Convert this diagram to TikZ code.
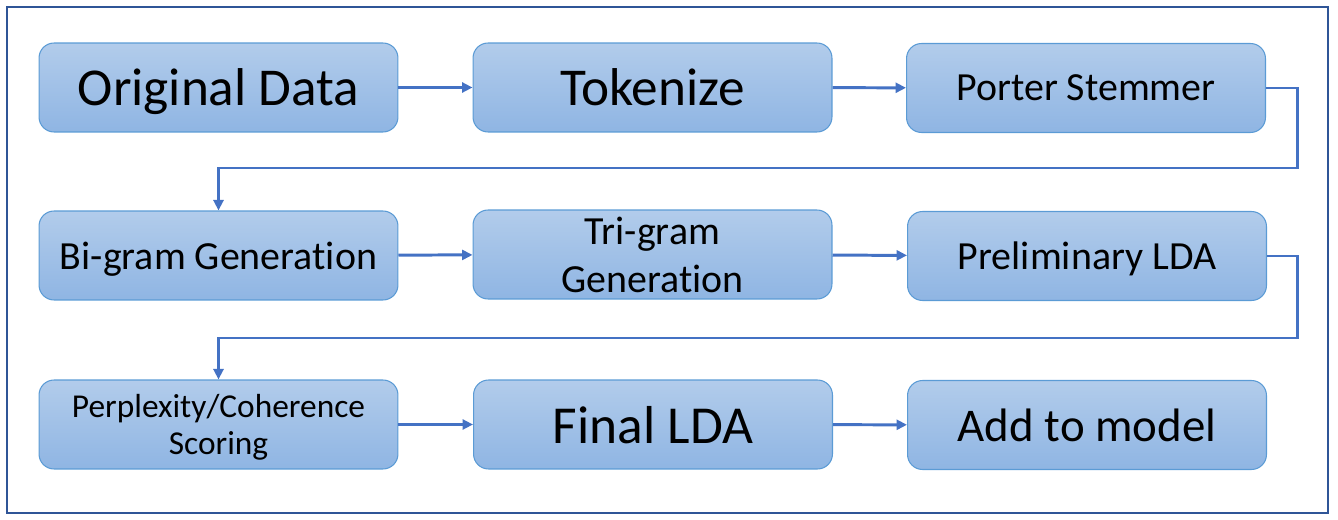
\documentclass[tikz,border=0pt]{standalone}
\usepackage{fontspec}
\setmainfont{Carlito}[Ligatures={CommonOff,ContextualOff}]
\usetikzlibrary{arrows.meta}
\definecolor{boxtop}{HTML}{B2CCEB}
\definecolor{boxbottom}{HTML}{8FB5E3}
\definecolor{boxline}{HTML}{5B9BD5}
\definecolor{flowcol}{HTML}{4472C4}
\definecolor{framecol}{HTML}{2F5597}
\begin{document}
\begin{tikzpicture}[x=0.02cm, y=-0.02cm,
		stage/.style={draw=boxline, line width=0.6pt, rounded corners=0.3cm, top color=boxtop, bottom color=boxbottom, minimum width=7.18cm, minimum height=1.78cm, inner sep=0pt, text depth=0pt, align=center, font=\fontsize{22.7}{27.2}\selectfont},
		flowline/.style={draw=flowcol, line width=1.7pt, -{Triangle[length=0.21cm,width=0.2cm]}}]
		\useasboundingbox (0,0) rectangle (1338,520);
		\draw [framecol, line width=1.2pt] (7,7) rectangle (1328,513);
		\node (orig) [stage, font=\fontsize{30.3}{36}\selectfont] at (218.5,87.5) {Original Data};
		\node (token) [stage, font=\fontsize{30.3}{36}\selectfont] at (652.5,87.5) {Tokenize};
		\node (porter) [stage] at (1086,88) {Porter Stemmer};
		\node (bigram) [stage] at (218.5,255.5) {Bi-gram Generation};
		\node (trigram) [stage] at (652.5,254.5) {Tri-gram\\Generation};
		\node (prelda) [stage] at (1087,256) {Preliminary LDA};
		\node (scoring) [stage, font=\fontsize{19}{21.5}\selectfont] at (218.5,424.5) {Perplexity/Coherence\\Scoring};
		\node (finlda) [stage, font=\fontsize{30.4}{36}\selectfont] at (653,424.5) {Final LDA};
		\node (addmodel) [stage, font=\fontsize{26.7}{32}\selectfont] at (1087,425) {Add to model};
		\coordinate (turnA) at (1297,168);
		\coordinate (turnB) at (1297,338);
		\draw [flowline] (orig) -- (token);
		\draw [flowline] (token) -- (porter);
		\draw [flowline] (porter.east) -| (turnA) -| (bigram.north);
		\draw [flowline] (bigram) -- (trigram);
		\draw [flowline] (trigram) -- (prelda);
		\draw [flowline] (prelda.east) -| (turnB) -| (scoring.north);
		\draw [flowline] (scoring) -- (finlda);
		\draw [flowline] (finlda) -- (addmodel);
	\end{tikzpicture}
\end{document}
